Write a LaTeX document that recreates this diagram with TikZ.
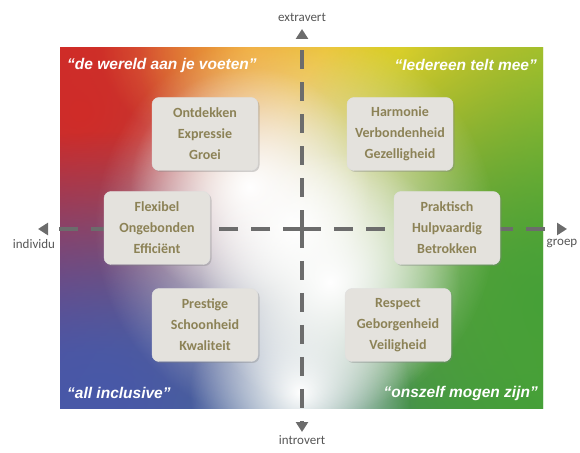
\documentclass[tikz,border=0pt]{standalone}
\usepackage{fontspec}
\setmainfont{Carlito}
\newfontfamily\mottofont{Liberation Sans}
\usetikzlibrary{calc}
\usetikzlibrary{arrows.meta}
\usetikzlibrary{fadings,shadows,shadings}

\definecolor{waardetekst}{RGB}{140,130,86}
\definecolor{waardevlak}{RGB}{228,226,221}
\definecolor{asgrijs}{RGB}{108,108,108}
\definecolor{rood}{RGB}{208,44,40}
\definecolor{oranje}{RGB}{238,140,70}
\definecolor{geel}{RGB}{244,216,40}
\definecolor{geelgroen}{RGB}{168,198,40}
\definecolor{groen}{RGB}{70,160,56}
\definecolor{blauw}{RGB}{72,88,168}
\tikzfading[name=vlek, inner color=transparent!0, outer color=transparent!100]

\begin{document}
\begin{tikzpicture} [x=1pt,y=1pt,
 waarde/.style={draw=white!75!gray, fill=waardevlak, rounded corners=7pt, minimum width=106, minimum height=73, align=center, text=waardetekst, font=\fontsize{14}{21}\selectfont\bfseries, drop shadow={opacity=.35, shadow xshift=1.5, shadow yshift=-1.5}},
 motto/.style={text=white, inner sep=0, font=\mottofont\fontsize{15.5}{17}\selectfont\bfseries\itshape},
 as/.style={asgrijs, line width=4, dash pattern=on 19 off 13, -{Triangle[length=10,width=12]}},
 aslabel/.style={text=asgrijs!80!black, inner sep=0, font=\fontsize{13}{15}\selectfont}]
\useasboundingbox (0,0) rectangle (580,452);
\coordinate (O) at (302,223);
\coordinate (LL) at (60,44);
\coordinate (UR) at (543,404);
\begin{scope}
 \clip (LL) rectangle (UR);
 \shade[upper left=rood, upper right=geelgroen, lower left=blauw, lower right=groen] (LL) rectangle (UR);
 \fill[rood, path fading=vlek] (80,340) ellipse (250 and 240);
 \fill[oranje, path fading=vlek] (250,404) ellipse (150 and 110);
 \fill[geel, path fading=vlek] (400,400) ellipse (260 and 230);
 \fill[groen, path fading=vlek] (543,150) ellipse (300 and 360);
 \fill[blauw, path fading=vlek] (100,60) ellipse (320 and 260);
 \foreach \p/\r in {{(295,225)}/200, {(250,265)}/120, {(300,60)}/110, {(330,170)}/130} {
  \fill[white, path fading=vlek] \p circle (\r);
 }
\end{scope}
\coordinate (W) at (38,223);
\coordinate (E) at (567,223);
\coordinate (N) at (302,423);
\coordinate (S) at (302,20);
\draw[as] (O) -- (W);
\draw[as] (O) -- (E);
\draw[as] (O) -- (N);
\draw[as] (O) -- (S);
\node[aslabel, above] (extravert) at (302,430) {extravert};
\node[aslabel, below] (introvert) at (302,17) {introvert};
\node[aslabel] (individu) at (34,208) {individu};
\node[aslabel] (groep) at (562,209) {groep};
\node[waarde] (ontdekken) at (205,318) {Ontdekken\\Expressie\\Groei};
\node[waarde] (harmonie) at (400,318) {Harmonie\\Verbondenheid\\Gezelligheid};
\node[waarde] (flexibel) at (157,224) {Flexibel\\Ongebonden\\Efficiënt};
\node[waarde] (praktisch) at (447,224) {Praktisch\\Hulpvaardig\\Betrokken};
\node[waarde] (prestige) at (205,127) {Prestige\\Schoonheid\\Kwaliteit};
\node[waarde] (respect) at (398,127) {Respect\\Geborgenheid\\Veiligheid};
\node[motto, anchor=west] (wereld) at (67,387) {\char"201C de wereld aan je voeten\char"201D};
\node[motto, anchor=east] (iedereen) at (537,387) {\char"201C Iedereen telt mee\char"201D};
\node[motto, anchor=west] (inclusive) at (67,59) {\char"201C all inclusive\char"201D};
\node[motto, anchor=east] (onszelf) at (538,59) {\char"201C onszelf mogen zijn\char"201D};
\end{tikzpicture}
\end{document}
